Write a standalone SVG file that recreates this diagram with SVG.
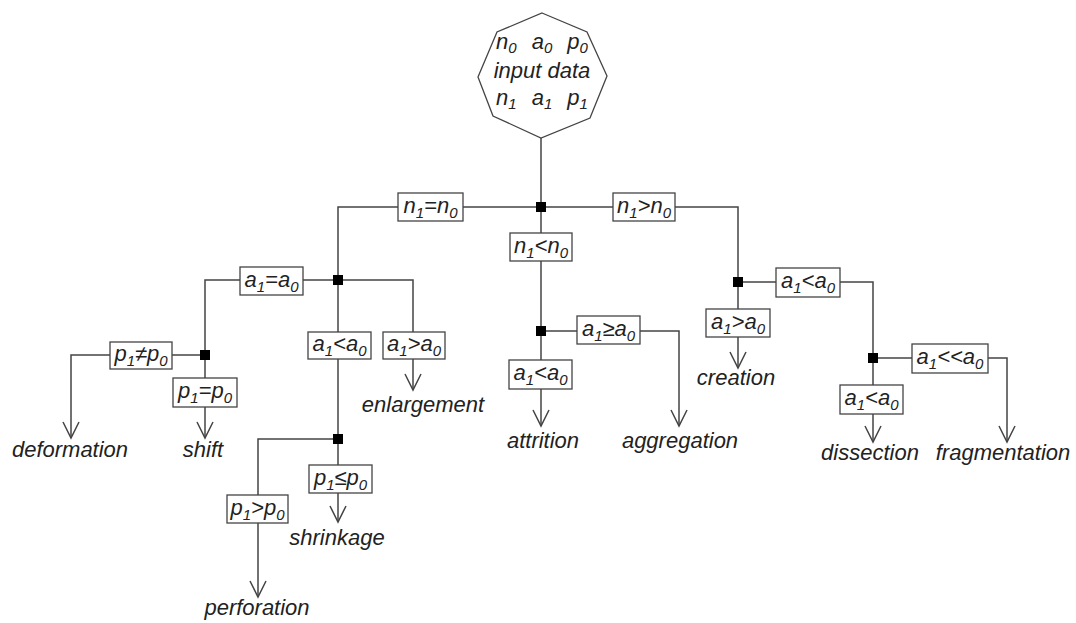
<svg xmlns="http://www.w3.org/2000/svg" width="1076" height="623" viewBox="0 0 1076 623">
<style>
.ln{fill:none;stroke:#444;stroke-width:1.5}
.bx{fill:#fff;stroke:#444;stroke-width:1.3}
.jn{fill:#000}
text{font-family:"Liberation Sans",Arial,sans-serif;font-style:italic;fill:#222;text-anchor:middle}
.lb{font-size:22px}
.lf{font-size:22px}
.oc{font-size:22px}
.s{font-size:15px}
</style>
<defs>
<marker id="arr" markerUnits="userSpaceOnUse" markerWidth="20" markerHeight="20" viewBox="-18 -10 20 20" refX="0" refY="0" orient="auto" overflow="visible">
<path d="M-16,-8 L0,0 L-16,8" fill="none" stroke="#444" stroke-width="1.5"/>
</marker>
</defs>
<rect width="1076" height="623" fill="#fff"/>
<g id="connectors">
<path class="ln" d="M541,138 V207"/>
<path class="ln" d="M338,280 V207 H738 V282"/>
<path class="ln" d="M541,207 V331"/>
<path class="ln" d="M205,355 V280 H413 V390" marker-end="url(#arr)"/>
<path class="ln" d="M338,280 V439"/>
<path class="ln" d="M205,355 H71 V438" marker-end="url(#arr)"/>
<path class="ln" d="M205,355 V438" marker-end="url(#arr)"/>
<path class="ln" d="M338,439 H258 V597" marker-end="url(#arr)"/>
<path class="ln" d="M338,439 V522" marker-end="url(#arr)"/>
<path class="ln" d="M541,331 H679 V426" marker-end="url(#arr)"/>
<path class="ln" d="M541,331 V426" marker-end="url(#arr)"/>
<path class="ln" d="M738,282 H873 V358"/>
<path class="ln" d="M738,282 V368" marker-end="url(#arr)"/>
<path class="ln" d="M873,358 H1007 V442" marker-end="url(#arr)"/>
<path class="ln" d="M873,358 V442" marker-end="url(#arr)"/>
</g>
<g id="input">
<polygon class="bx" points="542,13 587,32 607,76 590,118 541,138 493,116 478,77 497,32"/>
<text class="oc" x="542" y="49">n<tspan class="s" dy="4">0</tspan><tspan dx="15" dy="-4">a</tspan><tspan class="s" dy="4">0</tspan><tspan dx="15" dy="-4">p</tspan><tspan class="s" dy="4">0</tspan></text>
<text class="oc" x="542" y="78">input data</text>
<text class="oc" x="542" y="105">n<tspan class="s" dy="4">1</tspan><tspan dx="15" dy="-4">a</tspan><tspan class="s" dy="4">1</tspan><tspan dx="15" dy="-4">p</tspan><tspan class="s" dy="4">1</tspan></text>
</g>
<g id="junctions">
<rect id="j0" class="jn" x="536" y="202" width="10" height="10"/>
<rect id="j1" class="jn" x="333" y="275" width="10" height="10"/>
<rect id="j2" class="jn" x="200" y="350" width="10" height="10"/>
<rect id="j3" class="jn" x="333" y="434" width="10" height="10"/>
<rect id="j4" class="jn" x="536" y="326" width="10" height="10"/>
<rect id="j5" class="jn" x="733" y="277" width="10" height="10"/>
<rect id="j6" class="jn" x="868" y="353" width="10" height="10"/>
</g>
<g id="c-n-eq"><rect class="bx" x="398" y="193" width="65" height="28"/><text class="lb" x="430.5" y="213">n<tspan class="s" dy="5">1</tspan><tspan dy="-5">=n</tspan><tspan class="s" dy="5">0</tspan></text></g>
<g id="c-n-gt"><rect class="bx" x="613" y="193" width="62" height="28"/><text class="lb" x="644" y="213">n<tspan class="s" dy="5">1</tspan><tspan dy="-5">&gt;n</tspan><tspan class="s" dy="5">0</tspan></text></g>
<g id="c-n-lt"><rect class="bx" x="510" y="233" width="62" height="28"/><text class="lb" x="541" y="253">n<tspan class="s" dy="5">1</tspan><tspan dy="-5">&lt;n</tspan><tspan class="s" dy="5">0</tspan></text></g>
<g id="c-a-eq"><rect class="bx" x="240" y="267" width="63" height="28"/><text class="lb" x="271.5" y="287">a<tspan class="s" dy="5">1</tspan><tspan dy="-5">=a</tspan><tspan class="s" dy="5">0</tspan></text></g>
<g id="c-p-ne"><rect class="bx" x="110" y="342" width="62" height="27"/><text class="lb" x="141" y="361">p<tspan class="s" dy="5">1</tspan><tspan dy="-5">≠p</tspan><tspan class="s" dy="5">0</tspan></text></g>
<g id="c-p-eq"><rect class="bx" x="173" y="378" width="64" height="29"/><text class="lb" x="205" y="398">p<tspan class="s" dy="5">1</tspan><tspan dy="-5">=p</tspan><tspan class="s" dy="5">0</tspan></text></g>
<g id="c-a-lt1"><rect class="bx" x="308" y="332" width="63" height="27"/><text class="lb" x="339.5" y="351">a<tspan class="s" dy="5">1</tspan><tspan dy="-5">&lt;a</tspan><tspan class="s" dy="5">0</tspan></text></g>
<g id="c-a-gt1"><rect class="bx" x="383" y="332" width="62" height="27"/><text class="lb" x="414" y="351">a<tspan class="s" dy="5">1</tspan><tspan dy="-5">&gt;a</tspan><tspan class="s" dy="5">0</tspan></text></g>
<g id="c-p-le"><rect class="bx" x="309" y="465" width="63" height="28"/><text class="lb" x="340.5" y="485">p<tspan class="s" dy="5">1</tspan><tspan dy="-5">≤p</tspan><tspan class="s" dy="5">0</tspan></text></g>
<g id="c-p-gt"><rect class="bx" x="227" y="495" width="61" height="28"/><text class="lb" x="257.5" y="515">p<tspan class="s" dy="5">1</tspan><tspan dy="-5">&gt;p</tspan><tspan class="s" dy="5">0</tspan></text></g>
<g id="c-a-ge"><rect class="bx" x="577" y="316" width="63" height="28"/><text class="lb" x="608.5" y="336">a<tspan class="s" dy="5">1</tspan><tspan dy="-5">≥a</tspan><tspan class="s" dy="5">0</tspan></text></g>
<g id="c-a-lt2"><rect class="bx" x="509" y="360" width="63" height="29"/><text class="lb" x="540.5" y="380">a<tspan class="s" dy="5">1</tspan><tspan dy="-5">&lt;a</tspan><tspan class="s" dy="5">0</tspan></text></g>
<g id="c-a-lt3"><rect class="bx" x="776" y="268" width="64" height="29"/><text class="lb" x="808" y="288">a<tspan class="s" dy="5">1</tspan><tspan dy="-5">&lt;a</tspan><tspan class="s" dy="5">0</tspan></text></g>
<g id="c-a-gt2"><rect class="bx" x="706" y="309" width="64" height="28"/><text class="lb" x="738" y="329">a<tspan class="s" dy="5">1</tspan><tspan dy="-5">&gt;a</tspan><tspan class="s" dy="5">0</tspan></text></g>
<g id="c-a-ll"><rect class="bx" x="912" y="344" width="76" height="29"/><text class="lb" x="950" y="364">a<tspan class="s" dy="5">1</tspan><tspan dy="-5">&lt;&lt;a</tspan><tspan class="s" dy="5">0</tspan></text></g>
<g id="c-a-lt4"><rect class="bx" x="840" y="385" width="63" height="29"/><text class="lb" x="871.5" y="405">a<tspan class="s" dy="5">1</tspan><tspan dy="-5">&lt;a</tspan><tspan class="s" dy="5">0</tspan></text></g>
<g id="deformation"><text class="lf" x="70" y="457">deformation</text></g>
<g id="shift"><text class="lf" x="203" y="457">shift</text></g>
<g id="enlargement"><text class="lf" x="423" y="412">enlargement</text></g>
<g id="shrinkage"><text class="lf" x="337" y="545">shrinkage</text></g>
<g id="perforation"><text class="lf" x="257" y="615">perforation</text></g>
<g id="attrition"><text class="lf" x="543" y="448">attrition</text></g>
<g id="aggregation"><text class="lf" x="680" y="448">aggregation</text></g>
<g id="creation"><text class="lf" x="736" y="385">creation</text></g>
<g id="dissection"><text class="lf" x="870" y="460">dissection</text></g>
<g id="fragmentation"><text class="lf" x="1003" y="460">fragmentation</text></g>
</svg>
